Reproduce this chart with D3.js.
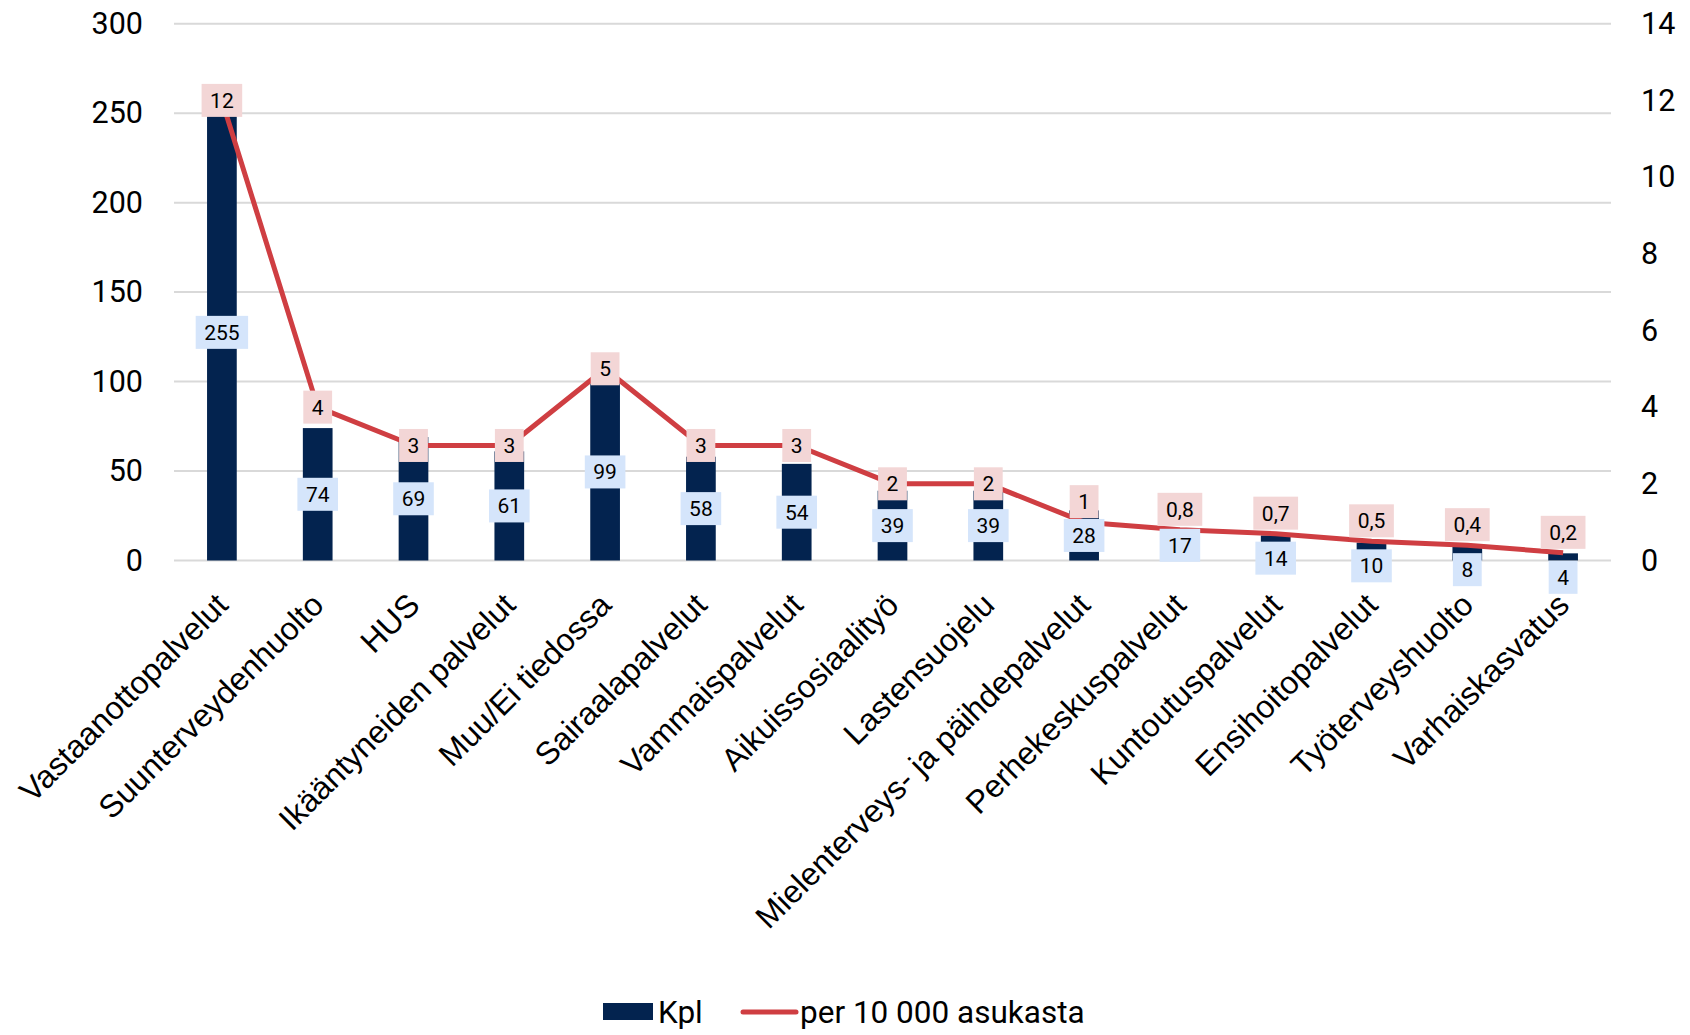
<!DOCTYPE html>
<html>
<head>
<meta charset="utf-8" />
<title>Kpl ja per 10 000 asukasta</title>
<script src="https://d3js.org/d3.v7.min.js"></script>
<style>
  body, html {
    margin: 0;
    background: #ffffff;
  }
  svg text {
    font-family: Roboto, sans-serif;
    fill: #000;
  }
  .cat text {
    font-family: "Liberation Sans", Arial, sans-serif;
  }
</style>
</head>
<body>
<svg id="viz"></svg>

<script>
// categories and the two series
var categories = ["Vastaanottopalvelut", "Suunterveydenhuolto", "HUS", "Ikääntyneiden palvelut",
  "Muu/Ei tiedossa", "Sairaalapalvelut", "Vammaispalvelut", "Aikuissosiaalityö", "Lastensuojelu",
  "Mielenterveys- ja päihdepalvelut", "Perhekeskuspalvelut", "Kuntoutuspalvelut",
  "Ensihoitopalvelut", "Työterveyshuolto", "Varhaiskasvatus"];
var kpl = [255, 74, 69, 61, 99, 58, 54, 39, 39, 28, 17, 14, 10, 8, 4];
var perAsukas = [12, 4, 3, 3, 5, 3, 3, 2, 2, 1, 0.8, 0.7, 0.5, 0.4, 0.2];
var leftTicks = [0, 50, 100, 150, 200, 250, 300];
var rightTicks = [0, 2, 4, 6, 8, 10, 12, 14];
var seriesNames = ["Kpl", "per 10 000 asukasta"];

var W = 1690, H = 1035;
var barColor = "#03234f",
    lineColor = "#cf3e42",
    barLabelBg = "#d5e5fb",
    lineLabelBg = "#f3d6d6",
    gridColor = "#d9d9d9";

var plot = {left: 174, right: 1611, top: 23.7, bottom: 560.5};

var svg = d3.select("#viz")
  .attr("width", W)
  .attr("height", H);

var x = d3.scaleBand()
  .domain(categories)
  .range([plot.left, plot.right])
  .padding(0);

var yL = d3.scaleLinear().domain([0, 300]).range([plot.bottom, plot.top]);
var yR = d3.scaleLinear().domain([0, 14]).range([plot.bottom, plot.top]);

// gridlines
svg.append("g")
  .selectAll("line")
  .data(leftTicks)
  .enter().append("line")
  .attr("x1", plot.left)
  .attr("x2", plot.right)
  .attr("y1", function(d) { return yL(d); })
  .attr("y2", function(d) { return yL(d); })
  .attr("stroke", gridColor)
  .attr("stroke-width", 2);

// left axis
var axL = svg.append("g")
  .attr("transform", "translate(" + (plot.left - 31) + ",0)")
  .call(d3.axisLeft(yL).tickValues(leftTicks).tickSize(0).tickPadding(0));
axL.select(".domain").remove();
axL.selectAll("text").style("font-size", "30.5px").attr("fill", "#000");

// right axis
var axR = svg.append("g")
  .attr("transform", "translate(" + (plot.right + 30) + ",0)")
  .call(d3.axisRight(yR).tickValues(rightTicks).tickSize(0).tickPadding(0));
axR.select(".domain").remove();
axR.selectAll("text").style("font-size", "30.5px").attr("fill", "#000");

// bars
var barW = x.bandwidth() * 0.31;
var rows = categories.map(function(c, i) {
  return {cat: c, kpl: kpl[i], per: perAsukas[i]};
});

svg.append("g")
  .selectAll("rect")
  .data(rows)
  .enter().append("rect")
  .attr("x", function(d) { return x(d.cat) + x.bandwidth() / 2 - barW / 2; })
  .attr("width", barW)
  .attr("y", function(d) { return yL(d.kpl); })
  .attr("height", function(d) { return yL(0) - yL(d.kpl); })
  .attr("fill", barColor);

// line
var line = d3.line()
  .x(function(d) { return x(d.cat) + x.bandwidth() / 2; })
  .y(function(d) { return yR(d.per); });

svg.append("path")
  .datum(rows)
  .attr("d", line)
  .attr("fill", "none")
  .attr("stroke", lineColor)
  .attr("stroke-width", 5)
  .attr("stroke-linejoin", "round");

// data labels
var boxH = 33, labelFont = 21;
function fmt(v) { return String(v).replace(".", ","); }

// work out label positions so the two labels of a category don't overlap
rows.forEach(function(d) {
  var barTop = yL(d.kpl), barMid = (barTop + yL(0)) / 2;
  var pointY = yR(d.per);
  var bTop = barMid - boxH / 2;
  var lTop = pointY - boxH / 2;
  if (lTop + boxH > bTop && bTop + boxH > lTop) {
    if (yL(0) - barTop < boxH * 0.9) {
      bTop = pointY + 8;
    }
    lTop = Math.min(pointY - 4, bTop) - boxH;
  }
  d.barLabelY = bTop + boxH / 2;
  d.lineLabelY = lTop + boxH / 2;
});

function addLabels(cls, textFn, yFn, bg) {
  var g = svg.append("g").attr("class", cls)
    .selectAll("g")
    .data(rows)
    .enter().append("g")
    .attr("transform", function(d) {
      return "translate(" + (x(d.cat) + x.bandwidth() / 2) + "," + yFn(d) + ")";
    });
  var rect = g.append("rect").attr("fill", bg);
  var txt = g.append("text")
    .attr("text-anchor", "middle")
    .attr("dy", "0.36em")
    .style("font-size", labelFont + "px")
    .text(textFn);
  txt.each(function() {
    var w = this.getComputedTextLength() + 17;
    d3.select(this.previousSibling)
      .attr("x", -w / 2)
      .attr("width", w)
      .attr("y", -boxH / 2)
      .attr("height", boxH);
  });
}

addLabels("barlabels", function(d) { return fmt(d.kpl); }, function(d) { return d.barLabelY; }, barLabelBg);
addLabels("linelabels", function(d) { return fmt(d.per); }, function(d) { return d.lineLabelY; }, lineLabelBg);

// category labels
svg.append("g").attr("class", "cat")
  .selectAll("text")
  .data(categories)
  .enter().append("text")
  .attr("transform", function(d) {
    return "translate(" + (x(d) + x.bandwidth() / 2 + 8) + ",607) rotate(-45)";
  })
  .attr("text-anchor", "end")
  .style("font-size", "32px")
  .text(function(d) { return d; });

// legend
var legend = svg.append("g").attr("transform", "translate(0,1012)");
legend.append("rect")
  .attr("x", 603).attr("y", -9)
  .attr("width", 50).attr("height", 17)
  .attr("fill", barColor);
legend.append("text")
  .attr("x", 658).attr("dy", "0.36em")
  .style("font-size", "31.5px")
  .text(seriesNames[0]);
legend.append("line")
  .attr("x1", 743).attr("x2", 796)
  .attr("stroke", lineColor)
  .attr("stroke-width", 5)
  .attr("stroke-linecap", "round");
legend.append("text")
  .attr("x", 800).attr("dy", "0.36em")
  .style("font-size", "31.5px")
  .text(seriesNames[1]);
</script>
</body>
</html>
